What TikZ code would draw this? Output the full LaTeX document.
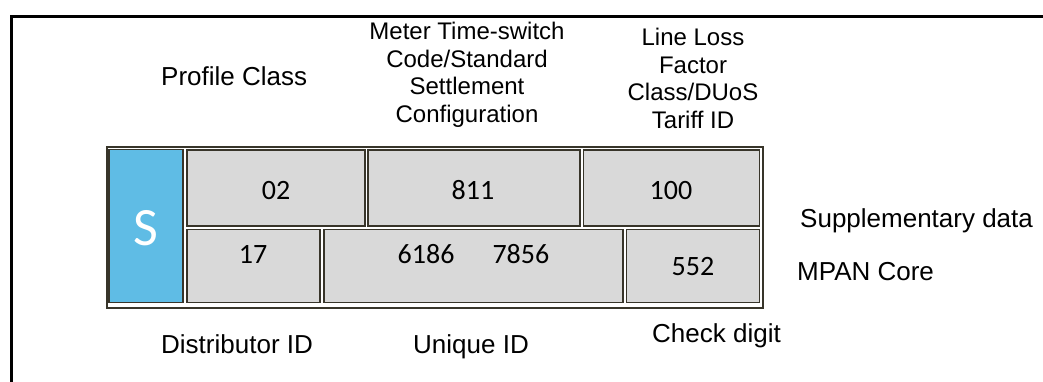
\documentclass[tikz,border=0pt]{standalone}
\usepackage{fontspec}
\setmainfont{Liberation Sans}
\newfontfamily\calfont{Carlito}
\definecolor{dark}{HTML}{38352A}
\definecolor{sblue}{HTML}{5FBCE5}
\definecolor{cellgray}{HTML}{D9D9D9}
\tikzset{
  cellbox/.style={draw=dark, line width=1.3pt, inner sep=0pt, outer sep=0pt},
  graycell/.style={cellbox, fill=cellgray},
  num/.style={font=\calfont\fontsize{28}{30}\selectfont, anchor=base, inner sep=0pt},
  lbl/.style={font=\fontsize{26}{30}\selectfont, anchor=base west, inner sep=0pt},
  mlbl/.style={font=\fontsize{24}{27.4}\selectfont, align=center, anchor=base, inner sep=0pt},
}
\begin{document}
\begin{tikzpicture}[x=1pt,y=-1pt]
\useasboundingbox (0,0) rectangle (1043,381);
\fill[white] (0,0) rectangle (1043,381);
\clip (0,0) rectangle (1043,381);
% outer frame (extends past the page)
\node[draw=black, line width=2.5pt, minimum width=1100pt, minimum height=420pt, inner sep=0pt, anchor=north west] (frame) at (10,15) {};
% table outline
\node[draw=dark, line width=2pt, minimum width=656pt, minimum height=161pt, inner sep=0pt, anchor=north west] (table) at (106,146) {};
% cells
\node[cellbox, fill=sblue, minimum width=74pt, minimum height=153pt] (s) at (146,226) {};
\node[graycell, minimum width=178pt, minimum height=76pt] (c02) at (276,188) {};
\node[graycell, minimum width=212pt, minimum height=76pt] (c811) at (474,188) {};
\node[graycell, minimum width=176pt, minimum height=76pt] (c100) at (671.5,188) {};
\node[graycell, minimum width=133pt, minimum height=73pt] (c17) at (253.5,266) {};
\node[graycell, minimum width=299pt, minimum height=73pt] (cuid) at (473.5,266) {};
\node[graycell, minimum width=133pt, minimum height=73pt] (c552) at (693,266) {};
% cell texts
\node[font=\calfont\fontsize{54}{56}\selectfont, text=white, anchor=base, inner sep=0pt] (stxt) at (146,245) {S};
\node[num] (t02) at (276,199) {02};
\node[num] (t811) at (473,199) {811};
\node[num] (t100) at (671,199) {100};
\node[num] (t17) at (253,263) {17};
\node[num] (tuid) at (473.5,263) {6186\hspace{38pt}7856};
\node[num] (t552) at (693,275) {552};
% labels
\node[lbl] (lpc) at (161,85) {Profile Class};
\node[mlbl] (lmtc) at (467,122) {Meter Time-switch\\Code/Standard\\Settlement\\Configuration};
\node[mlbl] (lllf) at (693,128) {Line Loss\\Factor\\Class/DUoS\\Tariff ID};
\node[lbl] (lsup) at (800,227) {Supplementary data};
\node[lbl] (lmpan) at (797,280) {MPAN Core};
\node[lbl] (ldist) at (161,353) {Distributor ID};
\node[lbl] (luid) at (413,353) {Unique ID};
\node[lbl] (lchk) at (652,342) {Check digit};
\end{tikzpicture}
\end{document}
